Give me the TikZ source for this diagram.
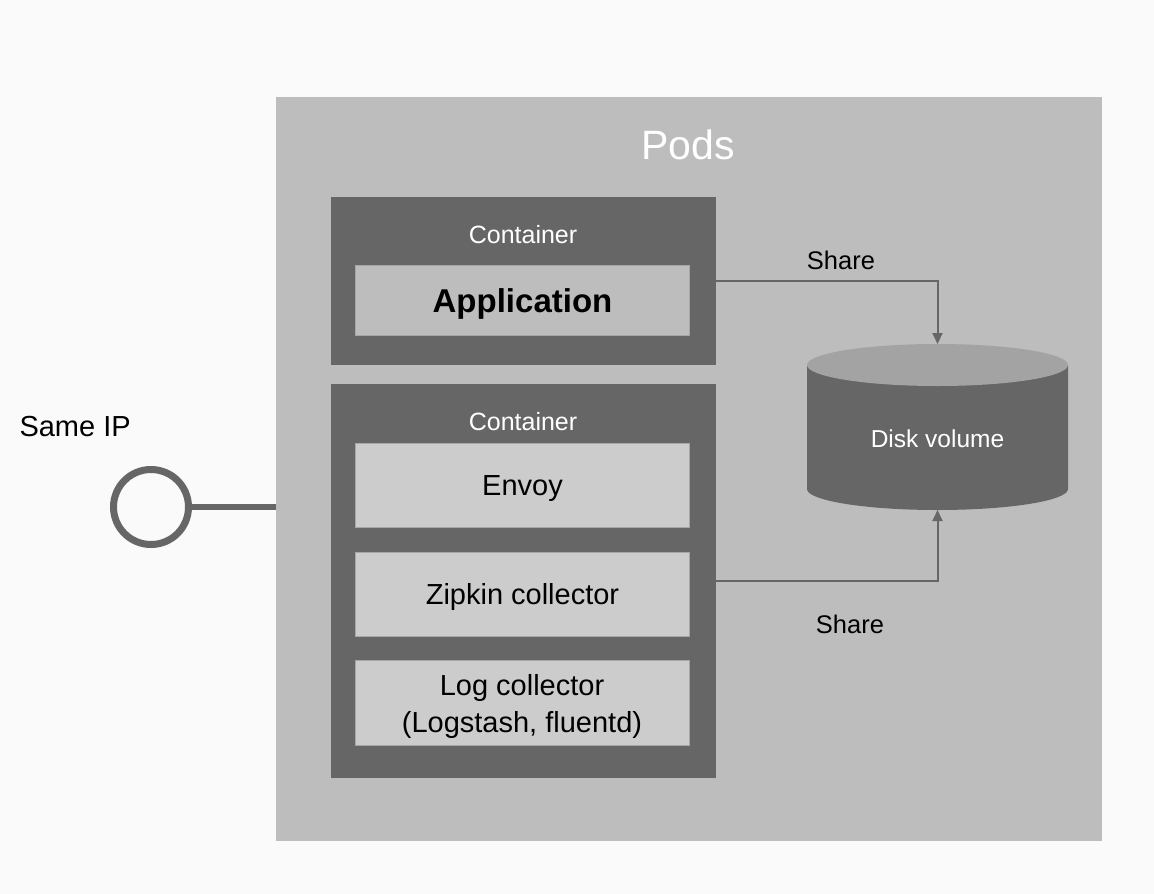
\documentclass[tikz,border=0pt]{standalone}
\usepackage{fontspec}
\setmainfont{Liberation Sans}
\usetikzlibrary{arrows.meta}
\definecolor{bgc}{HTML}{FAFAFA}
\definecolor{podc}{HTML}{BDBDBD}
\definecolor{contc}{HTML}{666666}
\definecolor{itemc}{HTML}{CCCCCC}
\definecolor{topc}{HTML}{A3A3A3}
\definecolor{edgec}{HTML}{A6A6A6}
\begin{document}
\begin{tikzpicture}[x=1pt,y=-1pt,
  podbox/.style={rectangle, fill=podc, inner sep=0pt, anchor=north west},
  contbox/.style={rectangle, fill=contc, inner sep=0pt, anchor=north west},
  itembox/.style={rectangle, fill=itemc, draw=edgec, line width=1pt, inner sep=0pt, anchor=north west,
    minimum width=334pt, text height=20.8pt, text depth=0pt, font=\fontsize{29}{37}\selectfont, text=black},
  conttxt/.style={anchor=base, text=white, font=\fontsize{25}{30}\selectfont},
  sharetxt/.style={anchor=base, text=black, font=\fontsize{25.5}{30}\selectfont},
  arr/.style={draw=contc, line width=2pt, -{Triangle[length=11pt,width=10pt]}},
]
\useasboundingbox (0,0) rectangle (1154,894);
\fill[bgc] (0,0) rectangle (1154,894);

% pods
\node[podbox, minimum width=826pt, minimum height=744pt] (pods) at (276,97) {};
\node[anchor=base, text=white, font=\fontsize{41}{49}\selectfont] (podslbl) at (688,159) {Pods};

% container 1
\node[contbox, minimum width=385pt, minimum height=168pt] (c1) at (331,197) {};
\node[conttxt] (c1lbl) at (523,243) {Container};
\node[itembox, fill=podc, minimum height=70pt, text height=23.8pt, font=\fontsize{33}{40}\selectfont\bfseries] (app) at (355,265) {Application};

% container 2
\node[contbox, minimum width=385pt, minimum height=394pt] (c2) at (331,384) {};
\node[conttxt] (c2lbl) at (523,430) {Container};
\node[itembox, minimum height=84pt] (envoy) at (355,443) {Envoy};
\node[itembox, minimum height=84pt] (zipkin) at (355,552) {Zipkin collector};
\node[itembox, minimum height=85pt] (logbox) at (355,660) {};
\node[align=center, anchor=base, font=\fontsize{29}{37}\selectfont] (logtxt) at (522,732) {Log collector\\(Logstash, fluentd)};

% disk volume
\fill[contc] (807,365) -- (807,489) arc[start angle=180, end angle=360, x radius=130.5pt, y radius=21pt] -- (1068,365) -- cycle;
\fill[topc] (937.5,365) ellipse [x radius=130.5pt, y radius=21pt];
\node[anchor=base, text=white, font=\fontsize{24.5}{30}\selectfont] (disk) at (937.5,447) {Disk volume};
\coordinate (disktop) at (937.5,344);
\coordinate (diskbot) at (937.5,510);

% connectors
\draw[arr] (c1.east) -| (disktop);
\draw[arr] (c2.east) -| (diskbot);
\node[sharetxt] (share1) at (841,269) {Share};
\node[sharetxt] (share2) at (850,633) {Share};

% same IP
\node[anchor=base west, font=\fontsize{29}{35}\selectfont] (sameip) at (16,436) {Same IP};
\node[circle, draw=contc, line width=7pt, minimum size=75pt, inner sep=0pt] (ip) at (151,507) {};
\draw[draw=contc, line width=6pt] (ip.east) -- (pods.west |- ip.east);
\end{tikzpicture}
\end{document}
